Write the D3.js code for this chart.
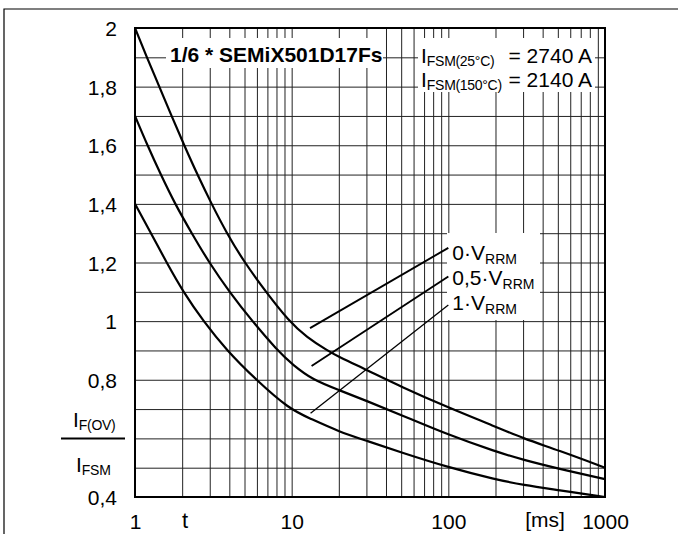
<!DOCTYPE html>
<html>
<head>
<meta charset="utf-8">
<script src="https://cdn.jsdelivr.net/npm/d3@7"></script>
<style>
  body { margin: 0; background: #fff; }
  svg { display: block; font-family: "Liberation Sans", Arial, sans-serif; }
</style>
</head>
<body>
<svg id="chart" width="678" height="534"></svg>
<script>
// data (t in ms, I_F(OV)/I_FSM)
const xTicks = [1, 10, 100, 1000];
const xTickLabels = ["1", "10", "100", "1000"];
const yTicks = [2, 1.8, 1.6, 1.4, 1.2, 1, 0.8, 0.4];
const yTickLabels = ["2", "1,8", "1,6", "1,4", "1,2", "1", "0,8", "0,4"];

const seriesNames = ["0·V", "0,5·V", "1·V"];

const t0 = [1, 1.19, 1.43, 1.71, 2.06, 2.5, 3.08, 3.85, 5.0, 6.85, 9.6, 12.5, 16.9, 20, 30, 50, 100, 200, 300, 500, 1000];
const v0 = [2.0, 1.9, 1.8, 1.7, 1.6, 1.5, 1.4, 1.3, 1.2, 1.1, 1.0, 0.945, 0.9, 0.878, 0.834, 0.776, 0.705, 0.64, 0.6, 0.56, 0.5];

const t05 = [1, 1.2, 1.46, 1.8, 2.3, 2.97, 4.0, 5.6, 8.1, 10.2, 13.6, 20, 30, 50, 100, 200, 300, 500, 1000];
const v05 = [1.7, 1.6, 1.5, 1.4, 1.3, 1.2, 1.1, 1.0, 0.9, 0.85, 0.8, 0.765, 0.728, 0.68, 0.612, 0.555, 0.527, 0.497, 0.461];

const t1 = [1, 1.265, 1.59, 2.03, 2.73, 3.85, 5.92, 9.65, 13.1, 20, 30, 50, 100, 200, 300, 500, 1000];
const v1 = [1.4, 1.3, 1.2, 1.1, 1.0, 0.9, 0.8, 0.7, 0.668, 0.623, 0.592, 0.552, 0.501, 0.46, 0.441, 0.424, 0.4];

// leader lines from curves to labels
const leaderStartT = [13.1, 13.4, 13.2];
const leaderStartV = [0.976, 0.847, 0.686];
const leaderEndT = [100, 100, 100];
const leaderEndV = [1.25, 1.152, 1.055];

const svg = d3.select("#chart");
const margin = { top: 28, right: 73, bottom: 37, left: 135 };
const width = 678;
const height = 534;

const x = d3.scaleLog().domain([1, 1000]).range([margin.left, width - margin.right]);
const y = d3.scaleLinear().domain([0.4, 2]).range([height - margin.bottom, margin.top]);

// outer frame (top and left only)
svg.append("path")
  .attr("d", "M4,534 L4,9 L678,9")
  .attr("fill", "none")
  .attr("stroke", "#000")
  .attr("stroke-width", 1.2);

// grid
const xGrid = [];
[1, 10, 100].forEach(d => { for (let k = 1; k <= 9; k++) if (!(d === 1 && k === 1)) xGrid.push(d * k); });
const yGrid = d3.range(5, 20).map(d => d / 10);

svg.append("g")
  .attr("transform", `translate(0,${y(0.4)})`)
  .call(d3.axisBottom(x).tickValues(xGrid).tickSize(-(y(0.4) - y(2))).tickFormat(""))
  .call(g => g.select(".domain").remove())
  .call(g => g.selectAll("line").attr("stroke", "#222").attr("stroke-width", 1));

svg.append("g")
  .attr("transform", `translate(${x(1)},0)`)
  .call(d3.axisLeft(y).tickValues(yGrid).tickSize(-(x(1000) - x(1))).tickFormat(""))
  .call(g => g.select(".domain").remove())
  .call(g => g.selectAll("line").attr("stroke", "#222").attr("stroke-width", 1));

// white boxes behind in-plot text
const boxes = [
  [166, 38, 217, 30],
  [418, 38, 177, 54],
  [447, 233, 93, 87]
];
svg.selectAll(".box").data(boxes).enter().append("rect")
  .attr("x", d => d[0]).attr("y", d => d[1])
  .attr("width", d => d[2]).attr("height", d => d[3])
  .attr("fill", "#fff");

// plot border
svg.append("rect")
  .attr("x", x(1)).attr("y", y(2))
  .attr("width", x(1000) - x(1)).attr("height", y(0.4) - y(2))
  .attr("fill", "none").attr("stroke", "#000").attr("stroke-width", 2);

// curves
const line = d3.line()
  .x(d => x(d[0]))
  .y(d => y(d[1]))
  .curve(d3.curveBasis);

const curves = [
  d3.zip(t0, v0),
  d3.zip(t05, v05),
  d3.zip(t1, v1)
];
svg.selectAll(".curve").data(curves).enter().append("path")
  .attr("class", "curve")
  .attr("d", line)
  .attr("fill", "none")
  .attr("stroke", "#000")
  .attr("stroke-width", 2.2);

// leaders
svg.selectAll(".leader").data(seriesNames).enter().append("line")
  .attr("x1", (d, i) => x(leaderStartT[i]))
  .attr("y1", (d, i) => y(leaderStartV[i]))
  .attr("x2", (d, i) => x(leaderEndT[i]))
  .attr("y2", (d, i) => y(leaderEndV[i]))
  .attr("stroke", "#000")
  .attr("stroke-width", (d, i) => i === 2 ? 1.3 : 1.9);

// series labels
const labelBase = [260, 285, 310];
seriesNames.forEach((name, i) => {
  const t = svg.append("text")
    .attr("x", x(leaderEndT[i]) + 4)
    .attr("y", labelBase[i])
    .attr("font-size", 21);
  t.append("tspan").text(name);
  t.append("tspan").attr("font-size", 14).attr("dy", 4).text("RRM");
});

// title
svg.append("text")
  .attr("x", 170).attr("y", 62)
  .attr("font-size", 21).attr("font-weight", "bold")
  .text("1/6 * SEMiX501D17Fs");

// I_FSM values
const ifsmSubs = ["FSM(25°C)", "FSM(150°C)"];
const ifsmValues = ["= 2740 A", "= 2140 A"];
const ifsmBase = [63, 86.5];
ifsmSubs.forEach((s, i) => {
  const t = svg.append("text")
    .attr("x", 421).attr("y", ifsmBase[i])
    .attr("font-size", 21);
  t.append("tspan").text("I");
  t.append("tspan").attr("font-size", 14).attr("dy", 3).attr("letter-spacing", -0.3).text(s);
  svg.append("text")
    .attr("x", 592).attr("y", ifsmBase[i])
    .attr("text-anchor", "end")
    .attr("font-size", 21)
    .text(ifsmValues[i]);
});

// y tick labels
svg.append("g")
  .attr("transform", `translate(117,0)`)
  .call(d3.axisLeft(y).tickValues(yTicks).tickSize(0).tickPadding(0)
    .tickFormat((d, i) => yTickLabels[i]))
  .call(g => g.select(".domain").remove())
  .call(g => g.selectAll("text")
    .attr("font-family", "Liberation Sans, Arial, sans-serif")
    .attr("font-size", 21).attr("fill", "#000").attr("dy", "0.36em"));

// x tick labels
svg.append("g")
  .attr("transform", `translate(0,${y(0.4)})`)
  .call(d3.axisBottom(x).tickValues(xTicks).tickSize(0).tickPadding(0)
    .tickFormat((d, i) => xTickLabels[i]))
  .call(g => g.select(".domain").remove())
  .call(g => g.selectAll("text")
    .attr("font-family", "Liberation Sans, Arial, sans-serif")
    .attr("font-size", 21).attr("fill", "#000")
    .attr("dy", 0).attr("y", 32));

// axis names
svg.append("text").attr("x", 185).attr("y", 528)
  .attr("text-anchor", "middle").attr("font-size", 22).text("t");
svg.append("text").attr("x", 545).attr("y", 527)
  .attr("text-anchor", "middle").attr("font-size", 21).text("[ms]");

// y axis quotient label
const num = svg.append("text").attr("x", 73).attr("y", 427).attr("font-size", 21);
num.append("tspan").text("I");
num.append("tspan").attr("font-size", 14).attr("dy", 3).attr("letter-spacing", -0.3).text("F(OV)");
svg.append("line")
  .attr("x1", 61).attr("x2", 125)
  .attr("y1", y(0.6)).attr("y2", y(0.6))
  .attr("stroke", "#000").attr("stroke-width", 2);
const den = svg.append("text").attr("x", 76).attr("y", 472).attr("font-size", 21);
den.append("tspan").text("I");
den.append("tspan").attr("font-size", 14).attr("dy", 3).attr("letter-spacing", -0.3).text("FSM");
</script>
</body>
</html>
